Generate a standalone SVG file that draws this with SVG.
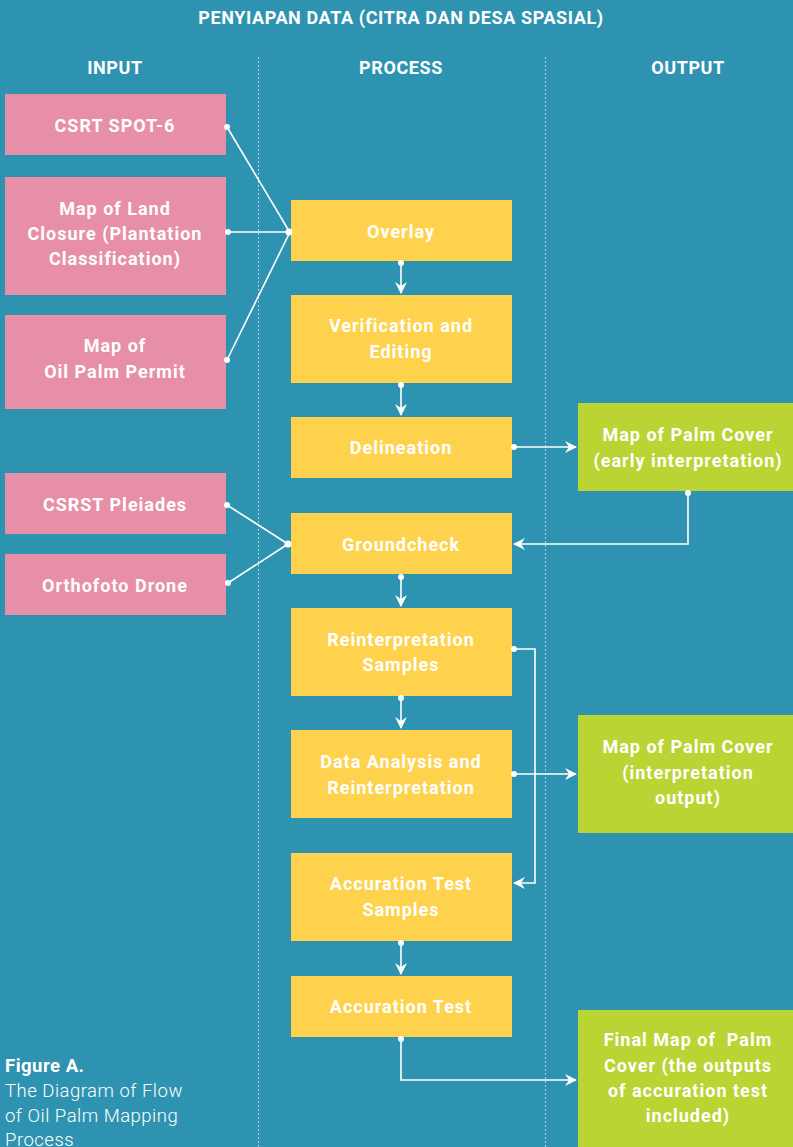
<svg xmlns="http://www.w3.org/2000/svg" width="793" height="1147" viewBox="0 0 793 1147">
  <defs>
    <style>
      .t { font-family: Roboto, "Liberation Sans", sans-serif; font-weight: 700; fill: #ffffff; text-anchor: middle; }
      .h { font-size: 18px; letter-spacing: 0.6px; }
      .b { font-size: 18px; letter-spacing: 1px; }
      .in rect { fill: #e78fa6; }
      .pr rect { fill: #ffd24d; }
      .out rect { fill: #b9d433; }
      .sep { stroke: #cfe4ec; stroke-width: 1; stroke-dasharray: 1.5 2.5; fill: none; }
      .ln { stroke: #ffffff; stroke-width: 1.6; fill: none; }
      .dot { fill: #ffffff; }
      .cap { font-family: Roboto, "Liberation Sans", sans-serif; font-size: 18.5px; letter-spacing: 0.5px; fill: #ffffff; }
    </style>
    <marker id="arr" viewBox="0 0 12 12" refX="11" refY="6" markerWidth="12" markerHeight="12" markerUnits="userSpaceOnUse" orient="auto">
      <path d="M0,0 L12,6 L0,12 L4,6 z" fill="#ffffff"/>
    </marker>
  </defs>

  <rect width="793" height="1147" fill="#2e93b0"/>

  <!-- headings -->
  <text class="t h" x="401" y="24">PENYIAPAN DATA (CITRA DAN DESA SPASIAL)</text>
  <text class="t h" x="115" y="74">INPUT</text>
  <text class="t h" x="401" y="74">PROCESS</text>
  <text class="t h" x="688" y="74">OUTPUT</text>

  <!-- column separators -->
  <line class="sep" x1="258.5" y1="57" x2="258.5" y2="1147"/>
  <line class="sep" x1="545.5" y1="57" x2="545.5" y2="1147"/>

  <!-- input nodes -->
  <g id="in-spot6" class="in">
    <rect x="5" y="94" width="221" height="61"/>
    <text class="t b" x="115" y="132">CSRT SPOT-6</text>
  </g>
  <g id="in-landclosure" class="in">
    <rect x="5" y="177" width="221" height="118"/>
    <text class="t b" x="115" y="215">Map of Land</text>
    <text class="t b" x="115" y="240">Closure (Plantation</text>
    <text class="t b" x="115" y="265">Classification)</text>
  </g>
  <g id="in-permit" class="in">
    <rect x="5" y="315" width="221" height="94"/>
    <text class="t b" x="115" y="352">Map of</text>
    <text class="t b" x="115" y="378">Oil Palm Permit</text>
  </g>
  <g id="in-pleiades" class="in">
    <rect x="5" y="473" width="221" height="61"/>
    <text class="t b" x="115" y="511">CSRST Pleiades</text>
  </g>
  <g id="in-drone" class="in">
    <rect x="5" y="554" width="221" height="61"/>
    <text class="t b" x="115" y="592">Orthofoto Drone</text>
  </g>

  <!-- process nodes -->
  <g id="p-overlay" class="pr">
    <rect x="291" y="200" width="221" height="61"/>
    <text class="t b" x="401" y="238">Overlay</text>
  </g>
  <g id="p-verify" class="pr">
    <rect x="291" y="295" width="221" height="88"/>
    <text class="t b" x="401" y="332">Verification and</text>
    <text class="t b" x="401" y="358">Editing</text>
  </g>
  <g id="p-delineation" class="pr">
    <rect x="291" y="417" width="221" height="61"/>
    <text class="t b" x="401" y="454">Delineation</text>
  </g>
  <g id="p-groundcheck" class="pr">
    <rect x="291" y="513" width="221" height="61"/>
    <text class="t b" x="401" y="551">Groundcheck</text>
  </g>
  <g id="p-reinterp-samples" class="pr">
    <rect x="291" y="608" width="221" height="88"/>
    <text class="t b" x="401" y="646">Reinterpretation</text>
    <text class="t b" x="401" y="671">Samples</text>
  </g>
  <g id="p-analysis" class="pr">
    <rect x="291" y="730" width="221" height="88"/>
    <text class="t b" x="401" y="768">Data Analysis and</text>
    <text class="t b" x="401" y="794">Reinterpretation</text>
  </g>
  <g id="p-test-samples" class="pr">
    <rect x="291" y="853" width="221" height="88"/>
    <text class="t b" x="401" y="890">Accuration Test</text>
    <text class="t b" x="401" y="916">Samples</text>
  </g>
  <g id="p-test" class="pr">
    <rect x="291" y="976" width="221" height="61"/>
    <text class="t b" x="401" y="1013">Accuration Test</text>
  </g>

  <!-- output nodes -->
  <g id="out-early" class="out">
    <rect x="578" y="403" width="215" height="88"/>
    <text class="t b" x="688" y="441">Map of Palm Cover</text>
    <text class="t b" x="688" y="467">(early interpretation)</text>
  </g>
  <g id="out-interp" class="out">
    <rect x="578" y="715" width="215" height="118"/>
    <text class="t b" x="688" y="753">Map of Palm Cover</text>
    <text class="t b" x="688" y="779">(interpretation</text>
    <text class="t b" x="688" y="804">output)</text>
  </g>
  <g id="out-final" class="out">
    <rect x="578" y="1010" width="215" height="137"/>
    <text class="t b" x="688" y="1046" xml:space="preserve">Final Map of  Palm</text>
    <text class="t b" x="688" y="1072">Cover (the outputs</text>
    <text class="t b" x="688" y="1097">of accuration test</text>
    <text class="t b" x="688" y="1122">included)</text>
  </g>

  <!-- connectors -->
  <g id="connectors">
    <line class="ln" x1="227" y1="127" x2="289" y2="231"/>
    <line class="ln" x1="228" y1="232" x2="289" y2="232"/>
    <line class="ln" x1="227" y1="360" x2="289" y2="234"/>
    <circle class="dot" cx="227" cy="127" r="3"/>
    <circle class="dot" cx="228" cy="232" r="3"/>
    <circle class="dot" cx="227" cy="360" r="3"/>
    <circle class="dot" cx="289" cy="232" r="3.5"/>

    <line class="ln" x1="401" y1="263" x2="401" y2="293" marker-end="url(#arr)"/>
    <circle class="dot" cx="401" cy="263" r="3"/>

    <line class="ln" x1="401" y1="385" x2="401" y2="415" marker-end="url(#arr)"/>
    <circle class="dot" cx="401" cy="385" r="3"/>

    <line class="ln" x1="514" y1="447" x2="576" y2="447" marker-end="url(#arr)"/>
    <circle class="dot" cx="514" cy="447" r="3"/>

    <polyline class="ln" points="688,493 688,544 514,544" marker-end="url(#arr)"/>
    <circle class="dot" cx="688" cy="493" r="3"/>

    <line class="ln" x1="227" y1="505" x2="288" y2="544"/>
    <line class="ln" x1="228" y1="583" x2="288" y2="544"/>
    <circle class="dot" cx="227" cy="505" r="3"/>
    <circle class="dot" cx="228" cy="583" r="3"/>
    <circle class="dot" cx="288" cy="544" r="3.5"/>

    <line class="ln" x1="401" y1="577" x2="401" y2="606" marker-end="url(#arr)"/>
    <circle class="dot" cx="401" cy="577" r="3"/>

    <polyline class="ln" points="514,649 535,649 535,883 514,883" marker-end="url(#arr)"/>
    <circle class="dot" cx="514" cy="649" r="3"/>

    <line class="ln" x1="401" y1="698" x2="401" y2="728" marker-end="url(#arr)"/>
    <circle class="dot" cx="401" cy="698" r="3"/>

    <line class="ln" x1="514" y1="774" x2="576" y2="774" marker-end="url(#arr)"/>
    <circle class="dot" cx="514" cy="774" r="3"/>

    <line class="ln" x1="401" y1="943" x2="401" y2="974" marker-end="url(#arr)"/>
    <circle class="dot" cx="401" cy="943" r="3"/>

    <polyline class="ln" points="401,1039 401,1080 576,1080" marker-end="url(#arr)"/>
    <circle class="dot" cx="401" cy="1039" r="3"/>
  </g>

  <!-- caption -->
  <text class="cap" x="5" y="1072" font-weight="700">Figure A.</text>
  <text class="cap" x="5" y="1097" font-weight="300">The Diagram of Flow</text>
  <text class="cap" x="5" y="1122" font-weight="300">of Oil Palm Mapping</text>
  <text class="cap" x="5" y="1146" font-weight="300">Process</text>
</svg>
